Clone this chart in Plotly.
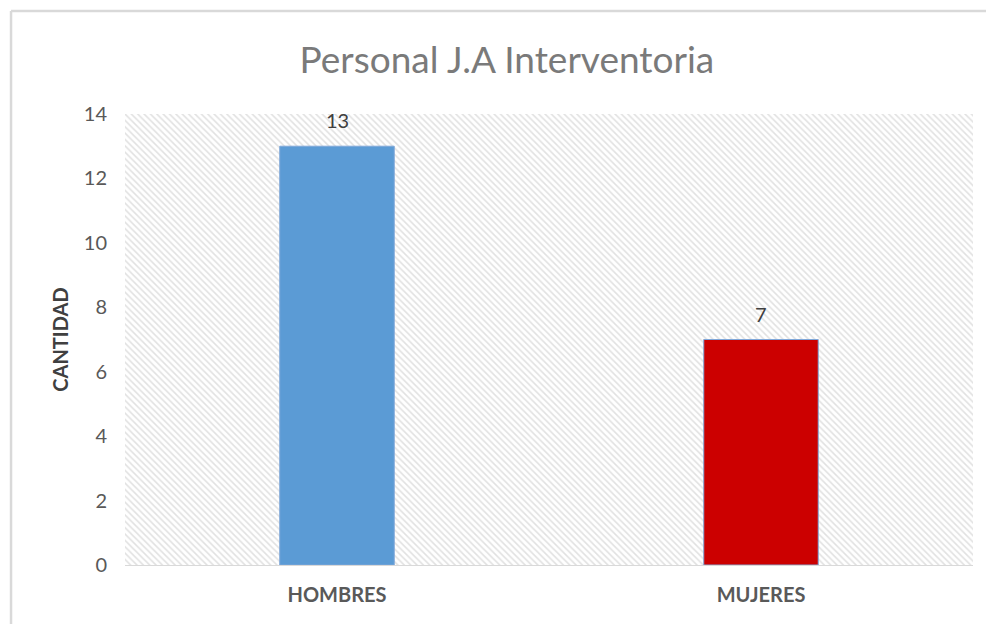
import plotly.graph_objects as go

categories = ["HOMBRES", "MUJERES"]
values = [13, 7]
bar_colors = ["#5B9BD5", "#CC0000"]
title_text = "Personal J.A Interventoria"
y_title = "CANTIDAD"
y_ticks = [0, 2, 4, 6, 8, 10, 12, 14]

FONT = "Lato, Open Sans, sans-serif"
GRAY = "#595959"

fig = go.Figure()

# hatched plot background (decoration) on the hidden base axes
fig.add_trace(go.Scatter(
    x=[0, 1, 1, 0, 0], y=[0, 0, 1, 1, 0],
    xaxis="x", yaxis="y", mode="lines", line=dict(width=0),
    fill="toself", fillcolor="rgba(0,0,0,0)",
    fillpattern=dict(shape="\\", fgcolor="#c4c4c4", bgcolor="white", size=4.5, solidity=0.35),
    hoverinfo="skip", showlegend=False,
))

fig.add_trace(go.Bar(
    x=categories, y=values, xaxis="x2", yaxis="y2",
    marker=dict(color=bar_colors, line=dict(color="#7FA7D9", width=1)),
    showlegend=False, cliponaxis=False,
))

annotations = [
    dict(x=c, y=v, xref="x2", yref="y2", text=str(v), showarrow=False,
         yanchor="middle", yshift=26,
         font=dict(family=FONT, size=20, color="#404040"))
    for c, v in zip(categories, values)
]

H = 616
border = dict(color="#d9d9d9", width=2.5)
fig.update_layout(
    width=986, height=H,
    margin=dict(l=117, r=21, t=106, b=H - 557),
    paper_bgcolor="white", plot_bgcolor="white",
    bargap=0.73,
    title=dict(text=title_text, x=0.506, xanchor="center", xref="container",
               y=1 - 52 / H, yref="container", yanchor="middle",
               font=dict(family=FONT, size=37, color="#7a7a7a")),
    xaxis=dict(range=[0, 1], visible=False, fixedrange=True),
    yaxis=dict(range=[0, 1], visible=False, fixedrange=True),
    xaxis2=dict(overlaying="x", anchor="y2", showgrid=False, showline=True,
                linecolor="#d9d9d9", linewidth=1,
                tickfont=dict(family=FONT, size=20, color=GRAY, weight="bold"),
                ticks="", ticklabelstandoff=12),
    yaxis2=dict(overlaying="y", anchor="x2", range=[0, 14], tickvals=y_ticks,
                showgrid=True, gridcolor="#d9d9d9", gridwidth=1, zeroline=False,
                showline=False, ticks="",
                tickfont=dict(family=FONT, size=20, color=GRAY),
                ticklabelstandoff=17,
                title=dict(text=y_title, standoff=9,
                           font=dict(family=FONT, size=20, color="#404040", weight="bold"))),
    annotations=annotations,
    shapes=[
        dict(type="line", xref="paper", yref="paper",
             x0=-0.1344, x1=-0.1344, y0=-0.2, y1=1.2284, line=border, layer="below"),
        dict(type="line", xref="paper", yref="paper",
             x0=-0.1344, x1=1.1, y0=1.2284, y1=1.2284, line=border, layer="below"),
    ],
)

fig.write_html("out.html")
